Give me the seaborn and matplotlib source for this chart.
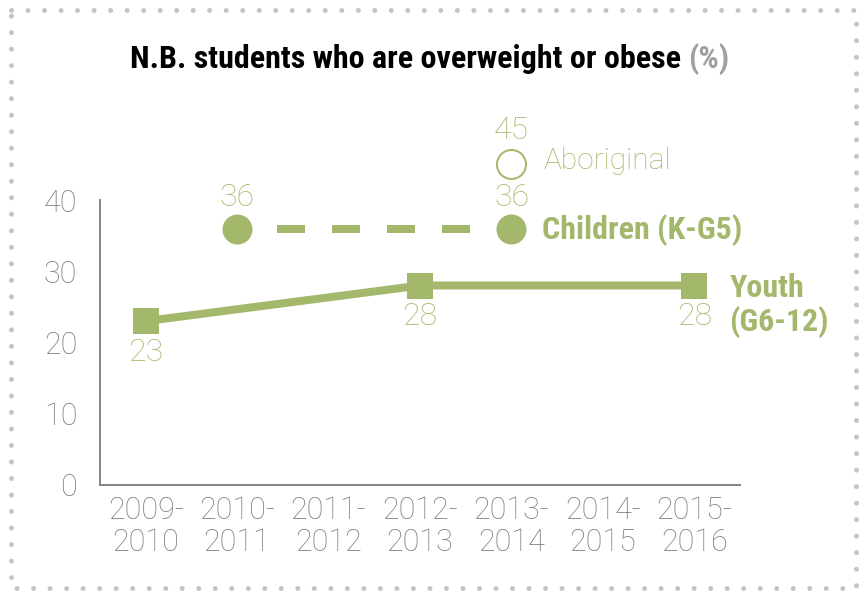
import matplotlib
matplotlib.use("Agg")
import matplotlib.pyplot as plt
import seaborn as sns
import pandas as pd
from matplotlib.lines import Line2D

# ---- data -------------------------------------------------------------
seasons = ["2009-\n2010", "2010-\n2011", "2011-\n2012", "2012-\n2013",
           "2013-\n2014", "2014-\n2015", "2015-\n2016"]
youth_seasons = ["2009-\n2010", "2012-\n2013", "2015-\n2016"]
youth_values = [23, 28, 28]
children_seasons = ["2010-\n2011", "2013-\n2014"]
children_values = [36, 36]
aboriginal_seasons = ["2013-\n2014"]
aboriginal_values = [45]
y_ticks = [0, 10, 20, 30, 40]

title_main = "N.B. students who are overweight or obese"
title_unit = "(%)"
youth_name = "Youth\n(G6-12)"
children_name = "Children (K-G5)"
aboriginal_name = "Aboriginal"

# ---- style ------------------------------------------------------------
sns.set_style("white")
plt.rcParams["lines.scale_dashes"] = False
GREEN = "#a4b86b"
GREY = "#7c7c7c"
THIN = dict(family=["Roboto", "DejaVu Sans"], weight="light")
BOLD = dict(family=["Roboto Condensed", "Saira SemiCondensed", "DejaVu Sans"],
            weight="bold")
PX = 72 / 100  # points per pixel at 100 dpi


def frame(season_list, values):
    return pd.DataFrame({"pos": [seasons.index(s) for s in season_list],
                         "value": values})


youth = frame(youth_seasons, youth_values)
children = frame(children_seasons, children_values)
aboriginal = frame(aboriginal_seasons, aboriginal_values)

fig = plt.figure(figsize=(8.64, 5.92), dpi=100)
ax = fig.add_axes([100 / 864, 1 - 485 / 592, 640 / 864, 285 / 592])

# Youth: solid line with square markers
sns.lineplot(data=youth, x="pos", y="value", ax=ax, color=GREEN,
             linewidth=8 * PX, marker="s", markersize=27 * PX,
             markeredgewidth=0, clip_on=False)

# Children: dashed line with round markers
sns.lineplot(data=children, x="pos", y="value", ax=ax, color=GREEN,
             linewidth=8 * PX, marker="o", markersize=30 * PX,
             markeredgewidth=0, clip_on=False)
ax.lines[-1].set_linestyle((15 * PX, (28 * PX, 27 * PX)))

# Aboriginal: hollow circle
sns.scatterplot(data=aboriginal, x="pos", y="value", ax=ax, s=(29 * PX) ** 2,
                facecolor="white", edgecolor=GREEN, linewidth=2 * PX,
                clip_on=False, zorder=5)

# ---- value labels -----------------------------------------------------
def value_labels(df, dy_px):
    for p, v in zip(df["pos"], df["value"]):
        ax.annotate(f"{v}", (p, v), xytext=(0, dy_px * PX),
                    textcoords="offset points", ha="center", va="center",
                    color=GREEN, fontsize=23, annotation_clip=False, **THIN)


value_labels(youth, -31)
value_labels(children, 31)
value_labels(aboriginal, 34)

# series names next to their last points
ax.annotate(aboriginal_name,
            (aboriginal["pos"].iloc[-1], aboriginal["value"].iloc[-1]),
            xytext=(32 * PX, 3 * PX), textcoords="offset points",
            ha="left", va="center", color=GREEN, fontsize=21.5,
            annotation_clip=False, **THIN)
ax.annotate(children_name,
            (children["pos"].iloc[-1], children["value"].iloc[-1]),
            xytext=(31 * PX, -2 * PX), textcoords="offset points",
            ha="left", va="center", color=GREEN, fontsize=23,
            annotation_clip=False, **BOLD)
ax.annotate(youth_name,
            (youth["pos"].iloc[-1], youth["value"].iloc[-1]),
            xytext=(35 * PX, -20 * PX), textcoords="offset points",
            ha="left", va="center", color=GREEN, fontsize=23,
            linespacing=1.1, annotation_clip=False, **BOLD)

# ---- axes -------------------------------------------------------------
ax.set_xlim(-0.5, len(seasons) - 0.5)
ax.set_ylim(0, 40)
ax.set_xlabel("")
ax.set_ylabel("")
for side in ("top", "right"):
    ax.spines[side].set_visible(False)
for side in ("left", "bottom"):
    ax.spines[side].set_color("#888888")
    ax.spines[side].set_linewidth(2 * PX)

ax.set_xticks(range(len(seasons)))
ax.set_xticklabels(seasons, color=GREY, fontsize=22, linespacing=1.12, **THIN)
ax.set_xticks([i - 0.5 for i in range(len(seasons) + 1)], minor=True)
ax.tick_params(axis="x", which="major", length=0, pad=8)
ax.tick_params(axis="x", which="minor", length=6 * PX, width=2 * PX,
               color="#888888", direction="out")
ax.set_yticks(y_ticks)
ax.set_yticklabels([str(t) for t in y_ticks], color=GREY, fontsize=22, **THIN)
ax.tick_params(axis="y", length=6 * PX, width=2 * PX, color="#888888",
               direction="out", pad=12)
ax.grid(False)

# ---- title (two colours) ----------------------------------------------
renderer = fig.canvas.get_renderer()
t_y = 1 - 68 / 592
t1 = fig.text(0, t_y, title_main, color="black", fontsize=23, va="baseline",
              ha="left", **BOLD)
t2 = fig.text(0, t_y, title_unit, color="#a0a0a0", fontsize=23,
              va="baseline", ha="left", **BOLD)
w1 = t1.get_window_extent(renderer).width
w2 = t2.get_window_extent(renderer).width
gap = 7
total = w1 + gap + w2
x0 = 430 - total / 2
t1.set_x(x0 / 864)
t2.set_x((x0 + w1 + gap) / 864)

# ---- dotted frame -----------------------------------------------------
fx0, fx1 = 11 / 864, 856 / 864
fy0, fy1 = 1 - 588 / 592, 1 - 10 / 592
border = Line2D([fx0, fx1, fx1, fx0, fx0], [fy1, fy1, fy0, fy0, fy1],
                transform=fig.transFigure, color="#c4c4c4",
                linewidth=5 * PX, linestyle=(0, (0.01, 16.5 * PX)),
                dash_capstyle="round", solid_capstyle="round")
fig.add_artist(border)

fig.savefig("out.png", dpi=100)
